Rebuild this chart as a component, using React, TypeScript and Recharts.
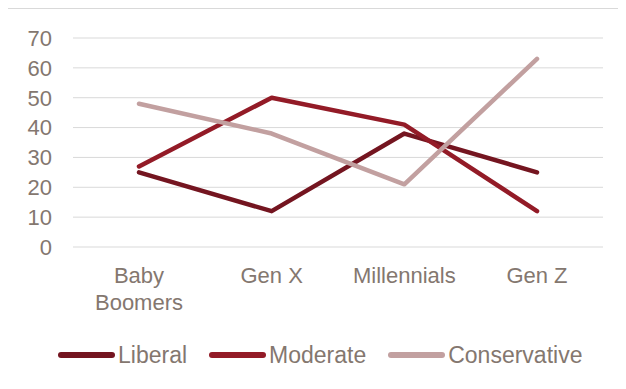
import React from 'react';
import { LineChart, Line, XAxis, YAxis, CartesianGrid } from 'recharts';

const categories = ['Baby Boomers', 'Gen X', 'Millennials', 'Gen Z'];
const liberal = [25, 12, 38, 25];
const moderate = [27, 50, 41, 12];
const conservative = [48, 38, 21, 63];
const yTicks = [0, 10, 20, 30, 40, 50, 60, 70];

const seriesInfo = [
  { key: 'Liberal', color: '#741520' },
  { key: 'Moderate', color: '#931B27' },
  { key: 'Conservative', color: '#C2A0A0' },
];

const textColor = '#84776F';
const fontFamily = '"Liberation Sans", Arial, sans-serif';

const data = categories.map((c, i) => ({
  name: c,
  Liberal: liberal[i],
  Moderate: moderate[i],
  Conservative: conservative[i],
}));

// long labels wrap onto two lines like Excel does
const CategoryTick = (props: any) => {
  const { x, y, payload } = props;
  const label: string = payload.value;
  const lines = label.length > 11 ? label.split(' ') : [label];
  return (
    <text x={x} y={y} textAnchor="middle" fill={textColor} fontSize={22} fontFamily={fontFamily}>
      {lines.map((l, i) => (
        <tspan key={i} x={x} dy={i === 0 ? 15.6 : 27}>
          {l}
        </tspan>
      ))}
    </text>
  );
};

const App: React.FC = () => {
  return (
    <div style={{ width: 619, height: 373, overflow: 'hidden', marginLeft: -1 }}>
      <div
        style={{
          position: 'relative',
          width: 640,
          height: 400,
          border: '1px solid #D9D9D9',
          boxSizing: 'border-box',
          background: '#fff',
          fontFamily,
        }}
      >
        <LineChart width={620} height={330} data={data} margin={{ top: 29, right: 25, left: 0, bottom: 22 }}>
          <CartesianGrid vertical={false} stroke="#D9D9D9" strokeWidth={1} />
          <XAxis
            dataKey="name"
            axisLine={false}
            tickLine={false}
            height={70}
            tickMargin={14}
            padding={{ left: 66, right: 66 }}
            interval={0}
            tick={<CategoryTick />}
          />
          <YAxis
            width={65}
            domain={[0, 70]}
            ticks={yTicks}
            interval={0}
            axisLine={false}
            tickLine={false}
            tickMargin={15}
            tick={{ fill: textColor, fontSize: 22, fontFamily }}
          />
          {seriesInfo.map((s) => (
            <Line
              key={s.key}
              dataKey={s.key}
              stroke={s.color}
              strokeWidth={4.5}
              strokeLinecap="round"
              strokeLinejoin="round"
              dot={false}
              activeDot={false}
              isAnimationActive={false}
            />
          ))}
        </LineChart>
        <div
          style={{
            position: 'absolute',
            left: 50,
            top: 333,
            height: 26,
            display: 'flex',
            alignItems: 'center',
          }}
        >
          {seriesInfo.map((s) => (
            <div key={s.key} style={{ display: 'flex', alignItems: 'center', marginRight: 22 }}>
              <span
                style={{
                  display: 'inline-block',
                  width: 57,
                  height: 6,
                  borderRadius: 3,
                  background: s.color,
                  marginRight: 3,
                }}
              />
              <span style={{ color: textColor, fontSize: 23, lineHeight: '26px' }}>{s.key}</span>
            </div>
          ))}
        </div>
      </div>
    </div>
  );
};

export default App;
